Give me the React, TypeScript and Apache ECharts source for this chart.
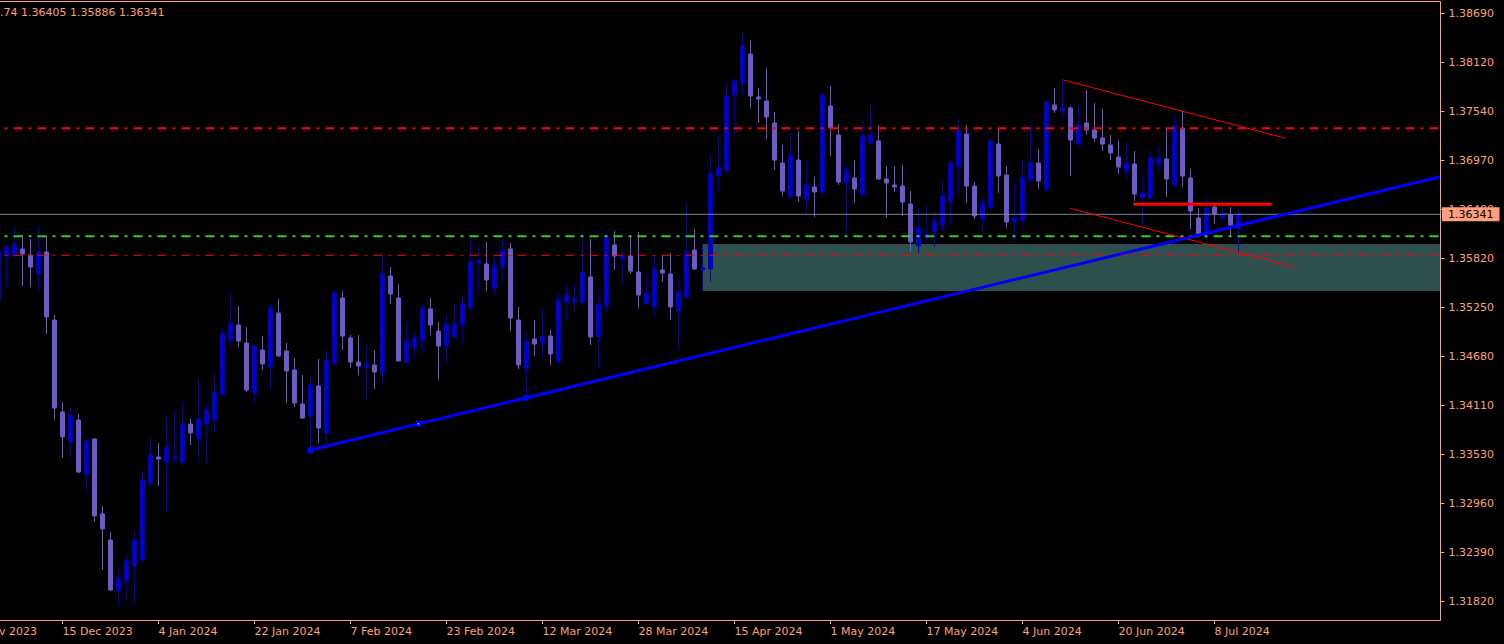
import React, { useEffect, useRef } from "react";
import * as echarts from "echarts";

const FONT = "DejaVu Sans";
const AXIS_COLOR = "#ffa07a";
const BULL = "#0000cd";
const BEAR = "#6a5acd";

// trading days, first entry = 29 Nov 2023 (off-screen label), candles start at 5 Dec 2023
const dates: string[] = [
  "29 Nov 2023", "30 Nov 2023", "1 Dec 2023", "4 Dec 2023", "5 Dec 2023", "6 Dec 2023", "7 Dec 2023", "8 Dec 2023",
  "11 Dec 2023", "12 Dec 2023", "13 Dec 2023", "14 Dec 2023", "15 Dec 2023", "18 Dec 2023", "19 Dec 2023", "20 Dec 2023",
  "21 Dec 2023", "22 Dec 2023", "26 Dec 2023", "27 Dec 2023", "28 Dec 2023", "29 Dec 2023", "2 Jan 2024", "3 Jan 2024",
  "4 Jan 2024", "5 Jan 2024", "8 Jan 2024", "9 Jan 2024", "10 Jan 2024", "11 Jan 2024", "12 Jan 2024", "15 Jan 2024",
  "16 Jan 2024", "17 Jan 2024", "18 Jan 2024", "19 Jan 2024", "22 Jan 2024", "23 Jan 2024", "24 Jan 2024", "25 Jan 2024",
  "26 Jan 2024", "29 Jan 2024", "30 Jan 2024", "31 Jan 2024", "1 Feb 2024", "2 Feb 2024", "5 Feb 2024", "6 Feb 2024",
  "7 Feb 2024", "8 Feb 2024", "9 Feb 2024", "12 Feb 2024", "13 Feb 2024", "14 Feb 2024", "15 Feb 2024", "16 Feb 2024",
  "19 Feb 2024", "20 Feb 2024", "21 Feb 2024", "22 Feb 2024", "23 Feb 2024", "26 Feb 2024", "27 Feb 2024", "28 Feb 2024",
  "29 Feb 2024", "1 Mar 2024", "4 Mar 2024", "5 Mar 2024", "6 Mar 2024", "7 Mar 2024", "8 Mar 2024", "11 Mar 2024",
  "12 Mar 2024", "13 Mar 2024", "14 Mar 2024", "15 Mar 2024", "18 Mar 2024", "19 Mar 2024", "20 Mar 2024", "21 Mar 2024",
  "22 Mar 2024", "25 Mar 2024", "26 Mar 2024", "27 Mar 2024", "28 Mar 2024", "29 Mar 2024", "1 Apr 2024", "2 Apr 2024",
  "3 Apr 2024", "4 Apr 2024", "5 Apr 2024", "8 Apr 2024", "9 Apr 2024", "10 Apr 2024", "11 Apr 2024", "12 Apr 2024",
  "15 Apr 2024", "16 Apr 2024", "17 Apr 2024", "18 Apr 2024", "19 Apr 2024", "22 Apr 2024", "23 Apr 2024", "24 Apr 2024",
  "25 Apr 2024", "26 Apr 2024", "29 Apr 2024", "30 Apr 2024", "1 May 2024", "2 May 2024", "3 May 2024", "6 May 2024",
  "7 May 2024", "8 May 2024", "9 May 2024", "10 May 2024", "13 May 2024", "14 May 2024", "15 May 2024", "16 May 2024",
  "17 May 2024", "20 May 2024", "21 May 2024", "22 May 2024", "23 May 2024", "24 May 2024", "27 May 2024", "28 May 2024",
  "29 May 2024", "30 May 2024", "31 May 2024", "3 Jun 2024", "4 Jun 2024", "5 Jun 2024", "6 Jun 2024", "7 Jun 2024",
  "10 Jun 2024", "11 Jun 2024", "12 Jun 2024", "13 Jun 2024", "14 Jun 2024", "17 Jun 2024", "18 Jun 2024", "19 Jun 2024",
  "20 Jun 2024", "21 Jun 2024", "24 Jun 2024", "25 Jun 2024", "26 Jun 2024", "27 Jun 2024", "28 Jun 2024", "1 Jul 2024",
  "2 Jul 2024", "3 Jul 2024", "4 Jul 2024", "5 Jul 2024", "8 Jul 2024", "9 Jul 2024", "10 Jul 2024", "11 Jul 2024",
];
const candlesStartAt = 4; // index in dates of the first candle (5 Dec 2023)
const futureSlots = 25;

// [open, close, low, high]
const candles: number[][] = [
  [1.35339, 1.35923, 1.35315, 1.35958],
  [1.35853, 1.35958, 1.35479, 1.35970],
  [1.35853, 1.35993, 1.35842, 1.36192],
  [1.35935, 1.35877, 1.35502, 1.36099],
  [1.35865, 1.35725, 1.35491, 1.36052],
  [1.35643, 1.35900, 1.35432, 1.36192],
  [1.35900, 1.35140, 1.34941, 1.36087],
  [1.35105, 1.34076, 1.33936, 1.35163],
  [1.34030, 1.33737, 1.33492, 1.34146],
  [1.33679, 1.33994, 1.33492, 1.34088],
  [1.33936, 1.33328, 1.33316, 1.34006],
  [1.33305, 1.33691, 1.33106, 1.33702],
  [1.33714, 1.32814, 1.32744, 1.33726],
  [1.32837, 1.32662, 1.32183, 1.32931],
  [1.32533, 1.31949, 1.31937, 1.32627],
  [1.31937, 1.32089, 1.31762, 1.32194],
  [1.32054, 1.32288, 1.31820, 1.32358],
  [1.32229, 1.32533, 1.31773, 1.32650],
  [1.32299, 1.33235, 1.32276, 1.33340],
  [1.33200, 1.33527, 1.33153, 1.33726],
  [1.33503, 1.33480, 1.33164, 1.33667],
  [1.33445, 1.33620, 1.32861, 1.33994],
  [1.33480, 1.33492, 1.33433, 1.34053],
  [1.33445, 1.33889, 1.33398, 1.34146],
  [1.33889, 1.33784, 1.33644, 1.33948],
  [1.33714, 1.33948, 1.33492, 1.34427],
  [1.33889, 1.34053, 1.33422, 1.34123],
  [1.33936, 1.34263, 1.33807, 1.34485],
  [1.34240, 1.34941, 1.34217, 1.35023],
  [1.34871, 1.35070, 1.34789, 1.35421],
  [1.35047, 1.34860, 1.34789, 1.35269],
  [1.34836, 1.34287, 1.34263, 1.35023],
  [1.34252, 1.34801, 1.34135, 1.34824],
  [1.34754, 1.34591, 1.34521, 1.34918],
  [1.34556, 1.35245, 1.34287, 1.35292],
  [1.35187, 1.34684, 1.34672, 1.35350],
  [1.34743, 1.34509, 1.34135, 1.34836],
  [1.34521, 1.34135, 1.34088, 1.34661],
  [1.34123, 1.33959, 1.33948, 1.34462],
  [1.33983, 1.34345, 1.33585, 1.34462],
  [1.34333, 1.33842, 1.33667, 1.34649],
  [1.33784, 1.34637, 1.33644, 1.34754],
  [1.34602, 1.35421, 1.34567, 1.35444],
  [1.35362, 1.34918, 1.34754, 1.35444],
  [1.34895, 1.34614, 1.34544, 1.34930],
  [1.34614, 1.34567, 1.34462, 1.34930],
  [1.34556, 1.34591, 1.34170, 1.34824],
  [1.34579, 1.34497, 1.34298, 1.34754],
  [1.34485, 1.35643, 1.34345, 1.35865],
  [1.35619, 1.35409, 1.35292, 1.35725],
  [1.35362, 1.34626, 1.34626, 1.35526],
  [1.34614, 1.34860, 1.34602, 1.35082],
  [1.34789, 1.34895, 1.34672, 1.34976],
  [1.34860, 1.35245, 1.34708, 1.35304],
  [1.35234, 1.35047, 1.34930, 1.35362],
  [1.34976, 1.34801, 1.34404, 1.35082],
  [1.34801, 1.35058, 1.34602, 1.35175],
  [1.34906, 1.35058, 1.34906, 1.35292],
  [1.35047, 1.35292, 1.34836, 1.35397],
  [1.35257, 1.35783, 1.35199, 1.36064],
  [1.35771, 1.35795, 1.35397, 1.35982],
  [1.35760, 1.35573, 1.35444, 1.36017],
  [1.35479, 1.35736, 1.35397, 1.35842],
  [1.35725, 1.35923, 1.35549, 1.36052],
  [1.35935, 1.35128, 1.34976, 1.36005],
  [1.35105, 1.34579, 1.34532, 1.35257],
  [1.34532, 1.34848, 1.34193, 1.34988],
  [1.34883, 1.34824, 1.34684, 1.35105],
  [1.34836, 1.34918, 1.34661, 1.35257],
  [1.34918, 1.34708, 1.34579, 1.34988],
  [1.34626, 1.35339, 1.34579, 1.35421],
  [1.35315, 1.35397, 1.35093, 1.35526],
  [1.35315, 1.35350, 1.35199, 1.35526],
  [1.35315, 1.35666, 1.35269, 1.36134],
  [1.35608, 1.34906, 1.34813, 1.36052],
  [1.34906, 1.35292, 1.34544, 1.35421],
  [1.35269, 1.36075, 1.35187, 1.36145],
  [1.35982, 1.35853, 1.35690, 1.36145],
  [1.35818, 1.35853, 1.35514, 1.35912],
  [1.35853, 1.35678, 1.35643, 1.36087],
  [1.35666, 1.35397, 1.35245, 1.36134],
  [1.35292, 1.35421, 1.35292, 1.35619],
  [1.35257, 1.35701, 1.35140, 1.35865],
  [1.35690, 1.35654, 1.35549, 1.35865],
  [1.35643, 1.35257, 1.35105, 1.35888],
  [1.35210, 1.35432, 1.34766, 1.35584],
  [1.35374, 1.35900, 1.35350, 1.36484],
  [1.35923, 1.35701, 1.35690, 1.36169],
  [1.35690, 1.35713, 1.35456, 1.35993],
  [1.35701, 1.36812, 1.35549, 1.37034],
  [1.36788, 1.36882, 1.36601, 1.37256],
  [1.36859, 1.37724, 1.36812, 1.37876],
  [1.37735, 1.37899, 1.37244, 1.37934],
  [1.37876, 1.38308, 1.37735, 1.38460],
  [1.38215, 1.37724, 1.37583, 1.38378],
  [1.37712, 1.37689, 1.37408, 1.37817],
  [1.37665, 1.37478, 1.37221, 1.38051],
  [1.37408, 1.36975, 1.36859, 1.37537],
  [1.36940, 1.36613, 1.36555, 1.37151],
  [1.36543, 1.37034, 1.36543, 1.37291],
  [1.36975, 1.36555, 1.36484, 1.37314],
  [1.36520, 1.36683, 1.36332, 1.36964],
  [1.36660, 1.36601, 1.36309, 1.36777],
  [1.36601, 1.37735, 1.36543, 1.37747],
  [1.37607, 1.37349, 1.37022, 1.37840],
  [1.37268, 1.36718, 1.36683, 1.37396],
  [1.36707, 1.36859, 1.36087, 1.36917],
  [1.36765, 1.36636, 1.36473, 1.36975],
  [1.36566, 1.37256, 1.36566, 1.37420],
  [1.37174, 1.37268, 1.37139, 1.37630],
  [1.37198, 1.36753, 1.36742, 1.37385],
  [1.36753, 1.36707, 1.36297, 1.36905],
  [1.36683, 1.36660, 1.36601, 1.36905],
  [1.36671, 1.36484, 1.36321, 1.36917],
  [1.36461, 1.36017, 1.35900, 1.36613],
  [1.35970, 1.36180, 1.35888, 1.36414],
  [1.36087, 1.36110, 1.36005, 1.36438],
  [1.36134, 1.36251, 1.35958, 1.36356],
  [1.36216, 1.36555, 1.36145, 1.36753],
  [1.36496, 1.36940, 1.36227, 1.36987],
  [1.36894, 1.37314, 1.36555, 1.37443],
  [1.37279, 1.36671, 1.36473, 1.37385],
  [1.36671, 1.36321, 1.36286, 1.36718],
  [1.36286, 1.36473, 1.36145, 1.36543],
  [1.36426, 1.37198, 1.36391, 1.37210],
  [1.37162, 1.36788, 1.36590, 1.37349],
  [1.36800, 1.36251, 1.36180, 1.36905],
  [1.36251, 1.36297, 1.36017, 1.36695],
  [1.36274, 1.36765, 1.36192, 1.36987],
  [1.36742, 1.36940, 1.36671, 1.37420],
  [1.36940, 1.36730, 1.36636, 1.37104],
  [1.36636, 1.37653, 1.36613, 1.37677],
  [1.37618, 1.37560, 1.37525, 1.37817],
  [1.37548, 1.37583, 1.37478, 1.37922],
  [1.37583, 1.37209, 1.36788, 1.37607],
  [1.37162, 1.37385, 1.37116, 1.37630],
  [1.37408, 1.37326, 1.37268, 1.37794],
  [1.37326, 1.37233, 1.37186, 1.37642],
  [1.37233, 1.37162, 1.37081, 1.37572],
  [1.37151, 1.37057, 1.36975, 1.37268],
  [1.37010, 1.36894, 1.36812, 1.37209],
  [1.36847, 1.36940, 1.36742, 1.37186],
  [1.36929, 1.36578, 1.36496, 1.37081],
  [1.36531, 1.36590, 1.36192, 1.36812],
  [1.36531, 1.36999, 1.36531, 1.37081],
  [1.36929, 1.36999, 1.36823, 1.37127],
  [1.36987, 1.36753, 1.36543, 1.37349],
  [1.36683, 1.37373, 1.36660, 1.37490],
  [1.37349, 1.36788, 1.36660, 1.37560],
  [1.36765, 1.36379, 1.36169, 1.36870],
  [1.36297, 1.36110, 1.36075, 1.36414],
  [1.36110, 1.36414, 1.36017, 1.36531],
  [1.36426, 1.36344, 1.36227, 1.36461],
  [1.36297, 1.36344, 1.36274, 1.36484],
  [1.36332, 1.36216, 1.36075, 1.36426],
  [1.36174, 1.36341, 1.35886, 1.36405],
];

const priceTicks = [
  "1.31820", "1.32390", "1.32960", "1.33530", "1.34110", "1.34680", "1.35250",
  "1.35820", "1.36400", "1.36970", "1.37540", "1.38120", "1.38690",
];

const headerText = ".74 1.36405 1.35886 1.36341";
const lastPrice = 1.36341;
const lastPriceLabel = "1.36341";
const resistanceLevel = 1.37346;
const supportLevel = 1.36083;
const lowerLevel = 1.35861;
const zoneTop = 1.35993;
const zoneBottom = 1.35444;
const zoneStart = 87;

// x in bar units (0 = 6 Dec 2023)
const trendX = [38, 51.5, 65, 179.19];
const trendY = [1.33585, 1.33891, 1.34196, 1.3678];
const channelUpperX = [132.1, 159.9];
const channelUpperY = [1.37911, 1.37229];
const channelLowerX = [132.94, 160.85];
const channelLowerY = [1.36411, 1.35728];
const pivotX = [140.85, 158.15];
const pivotY = [1.36458, 1.36458];

const yMin = 1.31598;
const yMax = 1.388224;
const chartEdge = 179.19;
const barMinK = -5.5;
const barMaxK = 179.5;

export default function App() {
  const ref = useRef<HTMLDivElement>(null);

  useEffect(() => {
    if (!ref.current) return;
    const chart = echarts.init(ref.current, undefined, { renderer: "svg" });

    const cats = dates.concat(Array.from({ length: futureSlots }, (_, i) => "+" + (i + 1)));
    const candleData: any[] = [];
    for (let i = 0; i < candlesStartAt; i++) candleData.push("-");
    candles.forEach((c) => candleData.push(c));

    const showLabel = (index: number) => index % 12 === 0 && index < dates.length;

    const level = (y: number) => [[barMinK, y], [chartEdge, y]];
    const pairs = (xs: number[], ys: number[]) => xs.map((x, i) => [x, ys[i]]);

    const dash = [9, 6, 3, 6];

    const option: any = {
      animation: false,
      backgroundColor: "#000000",
      grid: [
        { left: -37.5, width: 1480, top: 2, bottom: 24, show: false, containLabel: false, outerBoundsMode: "none" },
        {
          left: -1, top: 1.5, right: 63.5, bottom: 23.5, show: true,
          borderColor: AXIS_COLOR, borderWidth: 1, backgroundColor: "transparent",
          containLabel: false, outerBoundsMode: "none",
        },
        { left: 0, top: 13.33, right: 63.5, bottom: 43, show: false, containLabel: false, outerBoundsMode: "none" },
      ],
      xAxis: [
        {
          gridIndex: 0, type: "category", data: cats, boundaryGap: true,
          axisLine: { show: false, onZero: false },
          axisTick: { show: true, interval: showLabel, alignWithLabel: true, length: 4, lineStyle: { color: AXIS_COLOR } },
          axisLabel: {
            interval: showLabel, color: AXIS_COLOR, fontSize: 11, fontFamily: FONT,
            align: "left", margin: 6, showMinLabel: true, showMaxLabel: true, hideOverlap: false,
          },
          splitLine: { show: false },
        },
        { gridIndex: 0, type: "value", min: barMinK, max: barMaxK, show: false },
        { gridIndex: 1, type: "value", show: false },
        { gridIndex: 2, type: "value", show: false },
      ],
      yAxis: [
        { gridIndex: 0, type: "value", min: yMin, max: yMax, show: false, scale: true, splitLine: { show: false } },
        { gridIndex: 1, type: "value", show: false },
        {
          gridIndex: 2, type: "category", data: priceTicks, boundaryGap: false, position: "right",
          axisLine: { show: false, onZero: false },
          axisTick: { show: true, length: 4, interval: 0, lineStyle: { color: AXIS_COLOR } },
          axisLabel: { interval: 0, color: AXIS_COLOR, fontSize: 11, fontFamily: FONT, margin: 8, hideOverlap: false },
          splitLine: { show: false },
        },
      ],
      graphic: [
        {
          type: "text", left: 0, top: 7, z: 100,
          style: { text: headerText, fill: AXIS_COLOR, fontSize: 11, fontFamily: FONT },
        },
      ],
      series: [
        {
          name: "zone", type: "line", xAxisIndex: 1, yAxisIndex: 0, z: 1, silent: true,
          data: [[zoneStart, zoneTop], [chartEdge, zoneTop]], symbol: "none",
          lineStyle: { opacity: 0 },
          markArea: {
            silent: true,
            itemStyle: { color: "#2f4f4f", opacity: 1 },
            data: [[{ coord: [zoneStart, zoneTop] }, { coord: [chartEdge, zoneBottom] }]],
          },
        },
        {
          name: "price", type: "candlestick", xAxisIndex: 0, yAxisIndex: 0, z: 3,
          data: candleData, barWidth: 4,
          itemStyle: { color: BULL, color0: BEAR, borderColor: BULL, borderColor0: BEAR, borderWidth: 1 },
        },
        {
          name: "last", type: "line", xAxisIndex: 1, yAxisIndex: 0, z: 4, silent: true,
          data: level(lastPrice), symbol: "none",
          lineStyle: { color: "#778899", width: 1 },
          endLabel: {
            show: true, formatter: lastPriceLabel, distance: 2, color: "#000000",
            backgroundColor: AXIS_COLOR, padding: [2, 6, 1, 6], fontSize: 11, fontFamily: FONT,
          },
        },
        {
          name: "resistance", type: "line", xAxisIndex: 1, yAxisIndex: 0, z: 4, silent: true,
          data: level(resistanceLevel), symbol: "none",
          lineStyle: { color: "#ff0000", width: 2, type: dash, dashOffset: 20.5 },
        },
        {
          name: "support", type: "line", xAxisIndex: 1, yAxisIndex: 0, z: 4, silent: true,
          data: level(supportLevel), symbol: "none",
          lineStyle: { color: "#32cd32", width: 2, type: dash, dashOffset: 20.5 },
        },
        {
          name: "lower", type: "line", xAxisIndex: 1, yAxisIndex: 0, z: 4, silent: true,
          data: level(lowerLevel), symbol: "none",
          lineStyle: { color: "#ff0000", width: 1, type: dash, dashOffset: 20.5 },
        },
        {
          name: "channelUpper", type: "line", xAxisIndex: 1, yAxisIndex: 0, z: 5, silent: true,
          data: pairs(channelUpperX, channelUpperY), symbol: "none",
          lineStyle: { color: "#ff0000", width: 1 },
        },
        {
          name: "channelLower", type: "line", xAxisIndex: 1, yAxisIndex: 0, z: 5, silent: true,
          data: pairs(channelLowerX, channelLowerY), symbol: "none",
          lineStyle: { color: "#ff0000", width: 1 },
        },
        {
          name: "pivot", type: "line", xAxisIndex: 1, yAxisIndex: 0, z: 5, silent: true,
          data: pairs(pivotX, pivotY), symbol: "none",
          lineStyle: { color: "#ff0000", width: 3 },
        },
        {
          name: "trend", type: "line", xAxisIndex: 1, yAxisIndex: 0, z: 6, silent: true,
          data: trendX.map((x, i) => ({
            value: [x, trendY[i]],
            symbol: i < 3 ? "rect" : "none",
            symbolSize: 6,
          })),
          showSymbol: true,
          itemStyle: { color: "#0000ff", borderColor: "#0000ff", borderWidth: 0 },
          lineStyle: { color: "#0000ff", width: 3 },
        },
        {
          name: "trendMid", type: "scatter", xAxisIndex: 1, yAxisIndex: 0, z: 7, silent: true,
          data: [[trendX[1], trendY[1]]], symbol: "rect", symbolSize: 1.5,
          itemStyle: { color: "#ffffff" },
        },
      ],
    };

    chart.setOption(option);
    return () => chart.dispose();
  }, []);

  return (
    <div
      ref={ref}
      style={{ position: "fixed", left: 0, top: 0, width: 1504, height: 644, background: "#000" }}
    />
  );
}
